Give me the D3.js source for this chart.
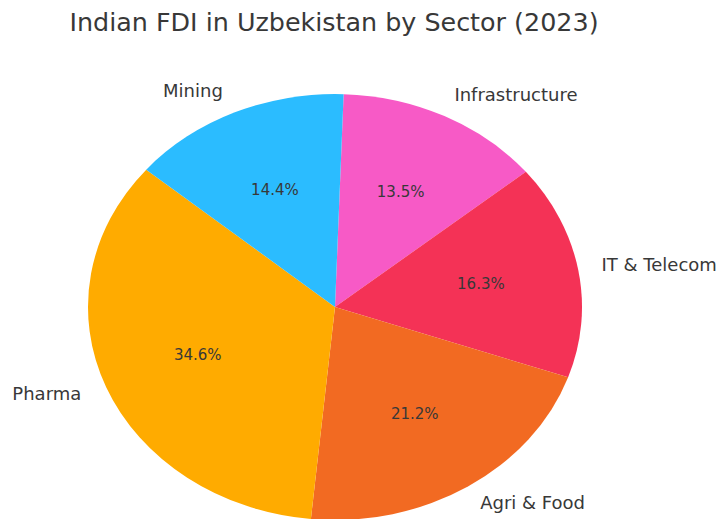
<!DOCTYPE html>
<html>
<head>
<meta charset="utf-8">
<script src="https://cdn.jsdelivr.net/npm/d3@7"></script>
<style>
  html, body { margin: 0; padding: 0; background: #fff; }
  svg { display: block; font-family: "DejaVu Sans", sans-serif; }
</style>
</head>
<body>
<div id="chart"></div>
<script>
// Indian FDI in Uzbekistan by Sector (2023) — pie, drawn clockwise from top
const sectors = ["Infrastructure", "IT & Telecom", "Agri & Food", "Pharma", "Mining"];
const shares = [13.5, 16.3, 21.2, 34.6, 14.4];
const colors = ["#f75ac6", "#f43256", "#f26a22", "#ffab00", "#2bbcff"];

const W = 726, H = 519;
const CX = 335, CY = 307;
const RY = 213, RX = 247;          // pie is drawn as an ellipse (non-equal aspect)
const SX = RX / RY;
const START = 2 * Math.PI / 180;

const data = sectors.map((s, i) => ({ name: s, value: shares[i], color: colors[i] }));
const total = d3.sum(shares);

const svg = d3.select("#chart").append("svg").attr("width", W).attr("height", H);

svg.append("text")
  .attr("x", 334).attr("y", 31)
  .attr("text-anchor", "middle")
  .attr("font-size", "25.4px").attr("fill", "#383838")
  .text("Indian FDI in Uzbekistan by Sector (2023)");

const pie = d3.pie().value(d => d.value).sort(null)
  .startAngle(START).endAngle(START + 2 * Math.PI);
const arcs = pie(data);

const arc = d3.arc().innerRadius(0).outerRadius(RY);
const pctArc = d3.arc().innerRadius(RY * 0.6).outerRadius(RY * 0.6);
const lblArc = d3.arc().innerRadius(RY * 1.1).outerRadius(RY * 1.1);

// wedges
svg.append("g")
  .attr("transform", `translate(${CX},${CY}) scale(${SX},1)`)
  .selectAll("path").data(arcs).enter().append("path")
  .attr("d", arc)
  .attr("fill", d => d.data.color);

const g = svg.append("g").attr("transform", `translate(${CX},${CY})`);

// percentages
g.selectAll(".pct").data(arcs).enter().append("text")
  .attr("class", "pct")
  .attr("x", d => pctArc.centroid(d)[0] * SX)
  .attr("y", d => pctArc.centroid(d)[1])
  .attr("dy", "0.3em")
  .attr("text-anchor", "middle")
  .attr("font-size", "15px").attr("fill", "#383838")
  .text(d => d3.format(".1f")(d.data.value / total * 100) + "%");

// sector labels
g.selectAll(".lbl").data(arcs).enter().append("text")
  .attr("class", "lbl")
  .attr("x", d => lblArc.centroid(d)[0] * SX + (lblArc.centroid(d)[0] > 0 ? -1 : -2))
  .attr("y", d => lblArc.centroid(d)[1])
  .attr("dy", "0.25em")
  .attr("text-anchor", d => lblArc.centroid(d)[0] > 0 ? "start" : "end")
  .attr("font-size", "18px").attr("fill", "#383838")
  .text(d => d.data.name);
</script>
</body>
</html>
